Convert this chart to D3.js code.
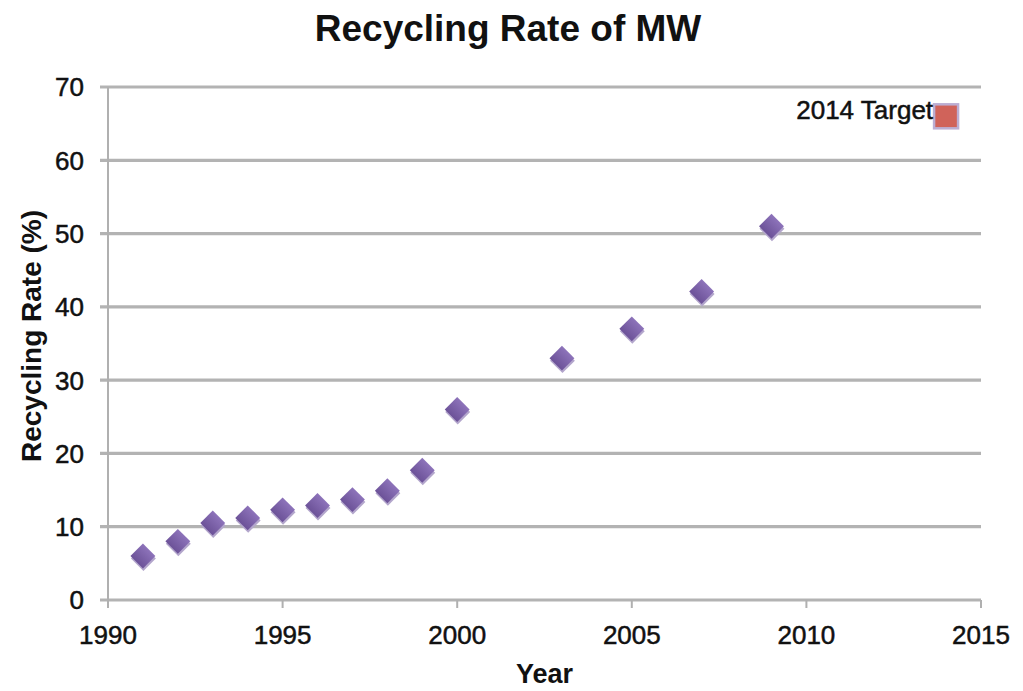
<!DOCTYPE html>
<html>
<head>
<meta charset="utf-8">
<script src="https://cdn.jsdelivr.net/npm/d3@7"></script>
<style>
  html, body { margin: 0; padding: 0; background: #ffffff; }
  svg { display: block; font-family: "Liberation Sans", Arial, sans-serif; }
</style>
</head>
<body>
<svg id="chart" width="1023" height="691"></svg>
<script>
// ---- data ----
const years = [1991, 1992, 1993, 1994, 1995, 1996, 1997, 1998, 1999, 2000, 2003, 2005, 2007, 2009];
const rates = [6.0, 8.0, 10.5, 11.2, 12.3, 12.9, 13.7, 14.9, 17.7, 26.0, 33.0, 37.0, 42.1, 51.0];
const targetYear = [2014];
const targetRate = [66];
const targetLabel = ["2014 Target"];
const xTicks = [1990, 1995, 2000, 2005, 2010, 2015];
const yTicks = [0, 10, 20, 30, 40, 50, 60, 70];
const titleText = "Recycling Rate of MW";
const xTitle = "Year";
const yTitle = "Recycling Rate (%)";

// ---- layout ----
const svg = d3.select("#chart");
const plot = { left: 108, right: 981, top: 87, bottom: 600 };
const x = d3.scaleLinear().domain([1990, 2015]).range([plot.left, plot.right]);
const y = d3.scaleLinear().domain([0, 70]).range([plot.bottom, plot.top]);

const defs = svg.append("defs");
const grad = defs.append("linearGradient").attr("id", "dg")
  .attr("x1", 0).attr("y1", 0).attr("x2", 0).attr("y2", 1);
grad.append("stop").attr("offset", "0%").attr("stop-color", "#8d73ba");
grad.append("stop").attr("offset", "100%").attr("stop-color", "#6c5298");

// gridlines
svg.append("g").selectAll("line").data(yTicks).join("line")
  .attr("x1", plot.left - 8).attr("x2", plot.right)
  .attr("y1", d => y(d)).attr("y2", d => y(d))
  .attr("stroke", "#b3b3b3").attr("stroke-width", 3.2);

// y axis line
svg.append("line")
  .attr("x1", plot.left).attr("x2", plot.left)
  .attr("y1", plot.top).attr("y2", plot.bottom)
  .attr("stroke", "#b0b0b0").attr("stroke-width", 2);

// x axis ticks
svg.append("g").selectAll("line").data(xTicks).join("line")
  .attr("x1", d => x(d)).attr("x2", d => x(d))
  .attr("y1", plot.bottom).attr("y2", plot.bottom + 8)
  .attr("stroke", "#b0b0b0").attr("stroke-width", 2);

// y tick labels
svg.append("g").selectAll("text").data(yTicks).join("text")
  .attr("x", 84).attr("y", d => y(d))
  .attr("dy", "0.36em")
  .attr("text-anchor", "end")
  .attr("font-size", 26).attr("fill", "#111")
  .attr("stroke", "#111").attr("stroke-width", 0.5)
  .text(d => d);

// x tick labels
svg.append("g").selectAll("text").data(xTicks).join("text")
  .attr("x", d => x(d)).attr("y", 644)
  .attr("text-anchor", "middle")
  .attr("font-size", 26).attr("fill", "#111")
  .attr("stroke", "#111").attr("stroke-width", 0.5)
  .text(d => d);

// title
svg.append("text").attr("x", 508).attr("y", 41)
  .attr("text-anchor", "middle").attr("font-size", 37).attr("font-weight", "bold")
  .attr("fill", "#111").text(titleText);

// axis titles
svg.append("text").attr("x", (plot.left + plot.right) / 2).attr("y", 683)
  .attr("text-anchor", "middle").attr("font-size", 27).attr("font-weight", "bold")
  .attr("fill", "#111").text(xTitle);

svg.append("text")
  .attr("transform", `translate(41, ${(215 + 457) / 2}) rotate(-90)`)
  .attr("text-anchor", "middle").attr("font-size", 28).attr("font-weight", "bold")
  .attr("fill", "#111").text(yTitle);

// data diamonds
const pts = years.map((yr, i) => ({ yr, v: rates[i] }));
const diamond = d3.symbol().type(d3.symbolSquare).size(310);
const g = svg.append("g");
g.selectAll("path.sh").data(pts).join("path").attr("class", "sh")
  .attr("d", diamond)
  .attr("transform", d => `translate(${x(d.yr) + 0.5}, ${y(d.v) + 2.5}) rotate(45)`)
  .attr("fill", "#b3a6cc");
g.selectAll("path.pt").data(pts).join("path").attr("class", "pt")
  .attr("d", diamond)
  .attr("transform", d => `translate(${x(d.yr)}, ${y(d.v)}) rotate(45)`)
  .attr("fill", "url(#dg)");

// target
const tg = targetYear.map((yr, i) => ({ yr, v: targetRate[i], label: targetLabel[i] }));
svg.append("g").selectAll("rect").data(tg).join("rect")
  .attr("x", d => x(d.yr) - 12).attr("y", d => y(d.v) - 12)
  .attr("width", 24).attr("height", 24)
  .attr("fill", "#d0635a").attr("stroke", "#bcaed3").attr("stroke-width", 2.5);
svg.append("g").selectAll("text").data(tg).join("text")
  .attr("x", d => x(d.yr) - 13).attr("y", d => y(d.v))
  .attr("dy", "0.1em")
  .attr("text-anchor", "end").attr("font-size", 26).attr("fill", "#111")
  .attr("stroke", "#111").attr("stroke-width", 0.5)
  .text(d => d.label);
</script>
</body>
</html>
